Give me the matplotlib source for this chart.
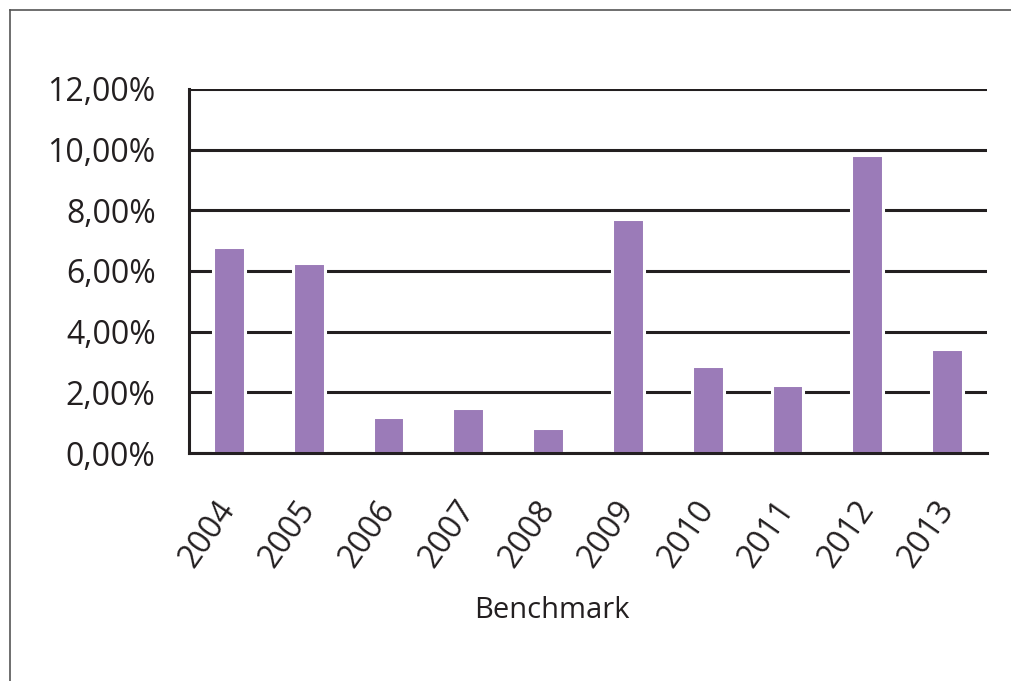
import matplotlib
matplotlib.use("Agg")
from matplotlib import pyplot as plt
from matplotlib.lines import Line2D

# 수익률 데이터
years = ["2004", "2005", "2006", "2007", "2008", "2009", "2010", "2011", "2012", "2013"]
returns = [0.0679, 0.0626, 0.0119, 0.0148, 0.0084, 0.0772, 0.0287, 0.0224, 0.0982, 0.0343]
yticks = [0.00, 0.02, 0.04, 0.06, 0.08, 0.10, 0.12]
xlabel = "Benchmark"

BARCOLOR = "#9B7BB8"
LINECOLOR = "#231F20"

plt.rcParams['font.family'] = ['Open Sans', 'DejaVu Sans']

W, H = 1011, 681
fig = plt.figure(figsize=(W / 100, H / 100), dpi=100)
ax = fig.add_axes([189 / W, 1 - 453 / H, (987 - 189) / W, (453 - 89) / H])

x = list(range(len(years)))
ax.bar(x, returns, width=0.40, color=BARCOLOR, edgecolor="white", linewidth=2.2, zorder=3)

ax.set_xlim(-0.5, len(years) - 0.5)
ax.set_ylim(0, 0.12)
ax.set_yticks(yticks)
ax.set_yticklabels([("%.2f%%" % (v * 100)).replace(".", ",") for v in yticks])
ax.set_xticks(x)
ax.set_xticklabels(years, rotation=55, ha="right", va="center", rotation_mode="anchor")

ax.yaxis.grid(True, color=LINECOLOR, linewidth=2.2, zorder=1)
ax.set_axisbelow(True)
for s in ["top", "right"]:
    ax.spines[s].set_visible(False)
for s in ["left", "bottom"]:
    ax.spines[s].set_color(LINECOLOR)
    ax.spines[s].set_linewidth(2.2)
    ax.spines[s].set_zorder(4)

ax.tick_params(axis="y", length=0, pad=24, labelsize=23, labelcolor="#231F20")
ax.tick_params(axis="x", length=0, pad=37, labelsize=23, labelcolor="#231F20")

ax.set_xlabel(xlabel, fontsize=21, color="#231F20")
ax.xaxis.set_label_coords((552 - 189) / (987 - 189), (453 - 611) / (453 - 89))
ax.xaxis.label.set_va("center")

# 바깥 테두리 (위, 왼쪽)
fig.add_artist(Line2D([10 / W, 1], [1 - 10 / H, 1 - 10 / H], color="#555555", linewidth=1.2))
fig.add_artist(Line2D([10 / W, 10 / W], [0, 1 - 10 / H], color="#555555", linewidth=1.2))

fig.savefig("out.png", dpi=100)
